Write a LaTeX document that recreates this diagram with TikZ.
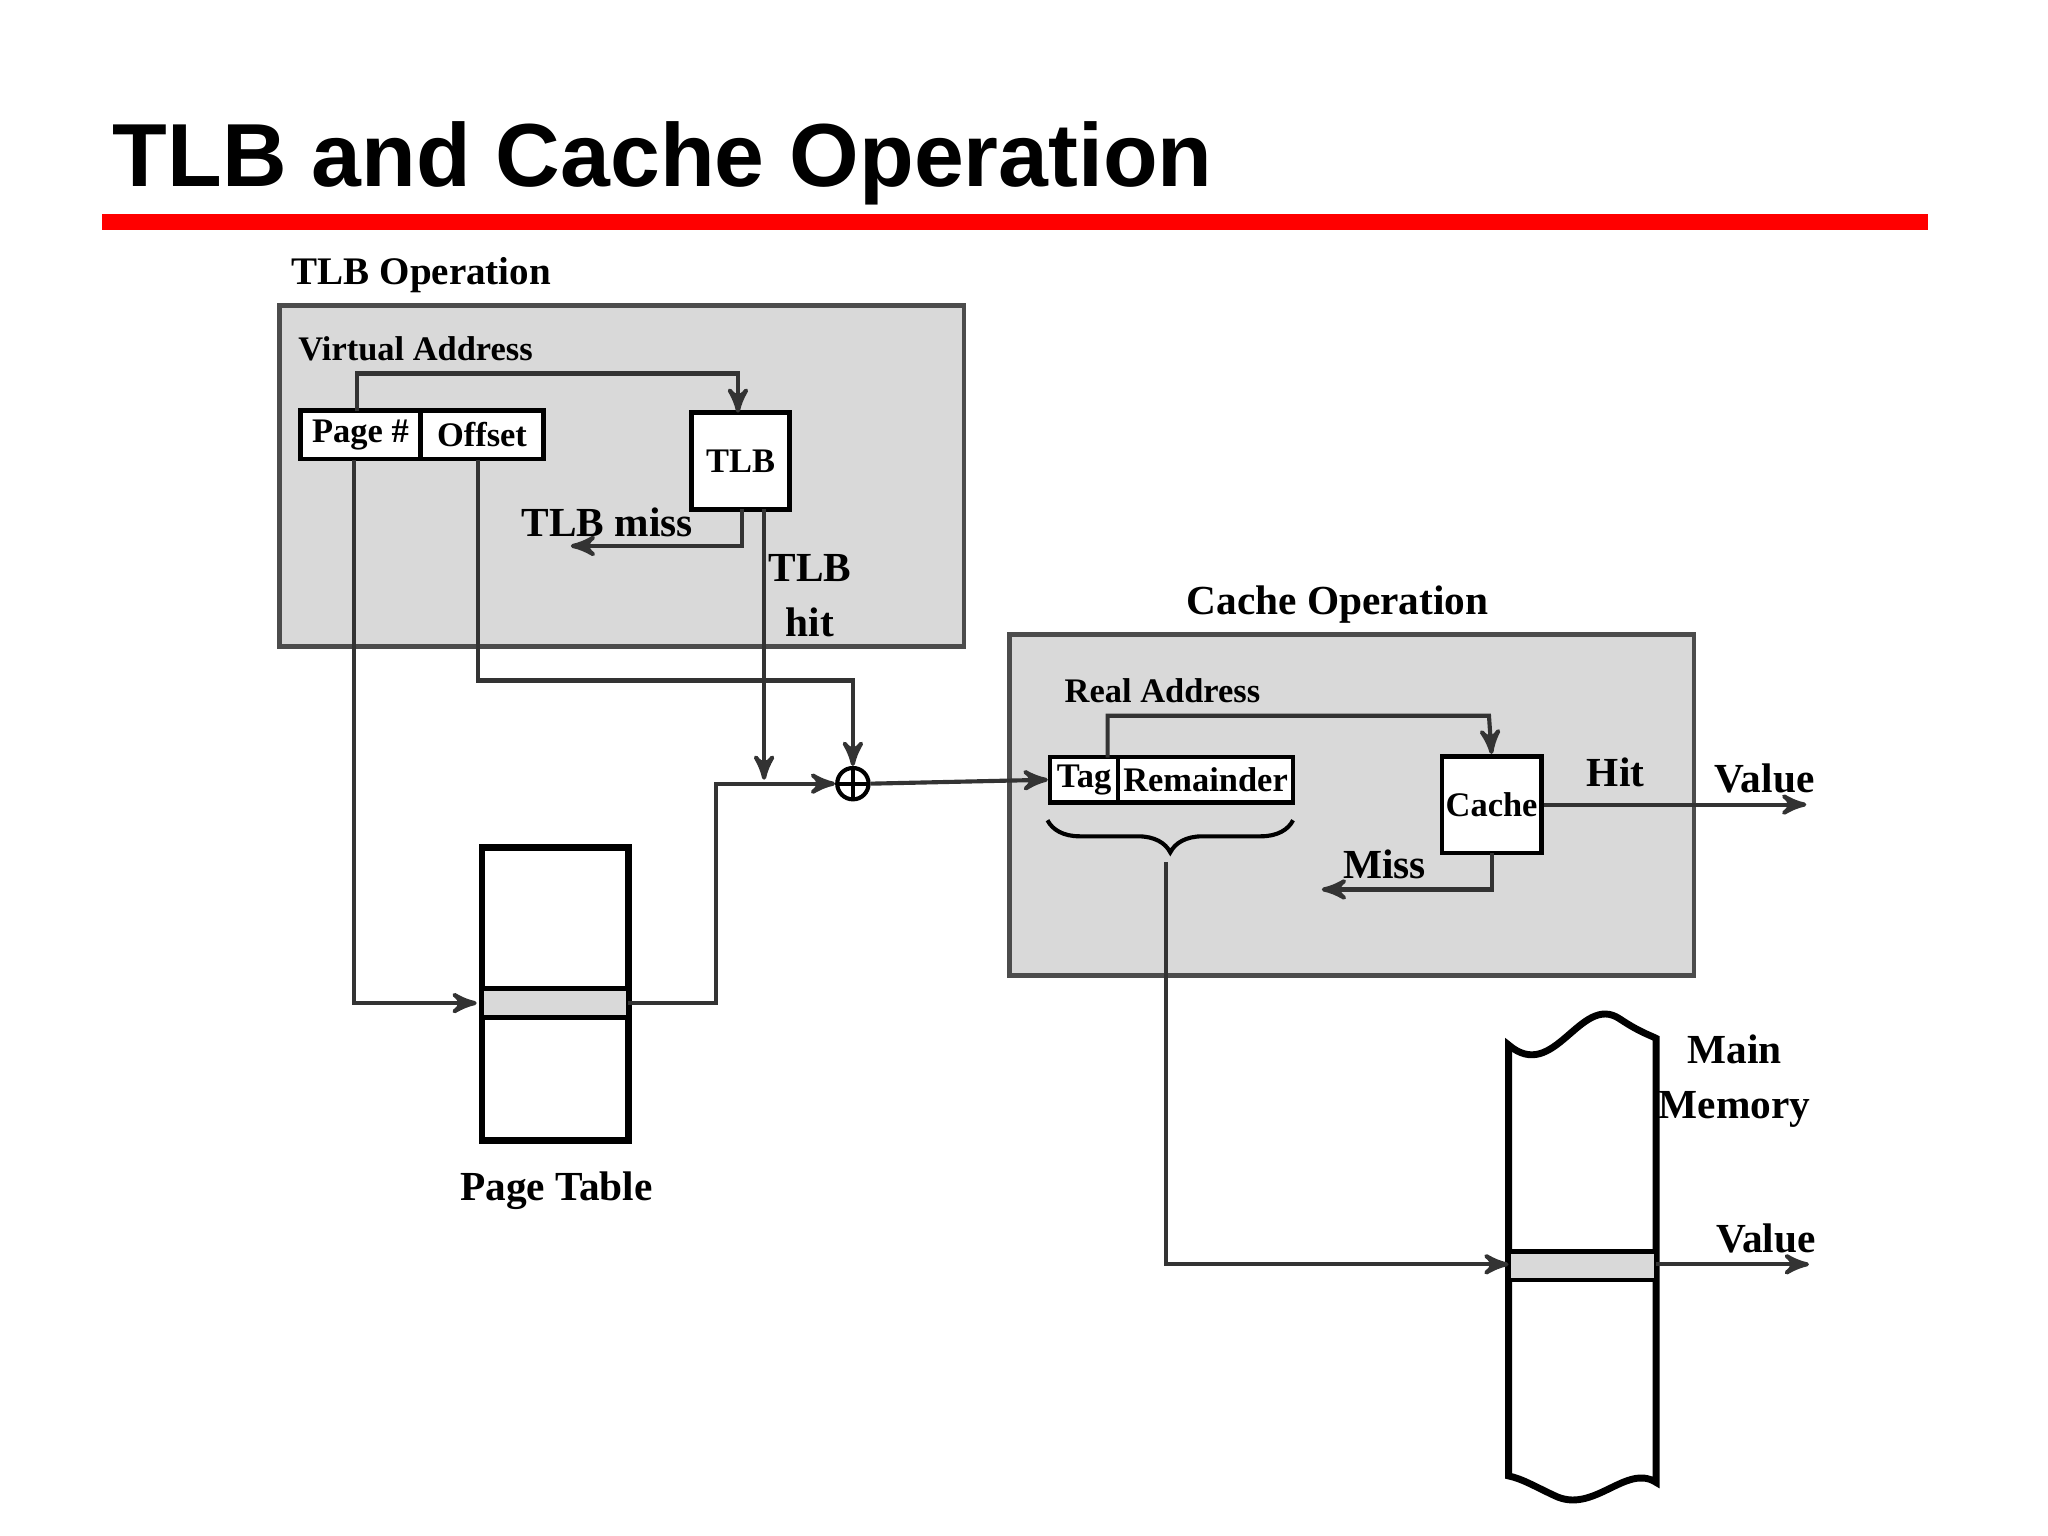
\documentclass[tikz,border=0pt]{standalone}
\usepackage{fontspec}
\setmainfont{Liberation Serif}
\newfontfamily\titlefont{Liberation Sans}
\usetikzlibrary{arrows,decorations.pathreplacing}
\definecolor{boxgray}{gray}{0.85}
\begin{document}
\begin{tikzpicture}[x=0.01cm,y=-0.01cm,>=stealth',thick]
  \tikzstyle{panel}=[draw=black!70,fill=boxgray,line width=1pt]
  \tikzstyle{cell}=[draw,fill=white,line width=1pt,inner sep=0,font=\fontsize{7.5}{9}\selectfont\bfseries]
  \tikzstyle{lbl}=[font=\fontsize{8.5}{10}\selectfont\bfseries]
  \tikzstyle{big}=[font=\fontsize{9}{12}\selectfont\bfseries,align=center]
  \tikzstyle{wire}=[draw=black!80,line width=0.9pt]
  \useasboundingbox (0,0) rectangle (1568,1176);
  % title
  \node[anchor=base west,inner sep=0,font=\titlefont\fontsize{19.5}{24}\selectfont\bfseries] (title) at (85,143) {TLB and Cache Operation};
  \fill[red] (78,164) rectangle (1476,176);
  % TLB operation
  \node[lbl,anchor=west,inner sep=0] (tlbop) at (222,211) {TLB Operation};
  \path[panel] (214,234) rectangle (738,495);
  \node[anchor=west,inner sep=0,font=\fontsize{7.5}{9}\selectfont\bfseries] (va) at (227,267) {Virtual Address};
  \node[cell,minimum width=0.92cm,minimum height=0.37cm] (page) at (276,333) {Page \#};
  \node[cell,minimum width=0.94cm,minimum height=0.37cm] (offset) at (369,333) {Offset};
  \node[cell,minimum width=0.75cm,minimum height=0.74cm] (tlb) at (567,353) {TLB};
  \draw[wire,->] (273,315) |- (565,286) -- (565,316);
  \draw[wire,->] (568,390) |- (437,418);
  \node[big] (miss1) at (465,400) {TLB miss};
  \draw[wire,->] (585,390) -- (585,597);
  \node[big] (hit1) at (620,456) {TLB\\hit};
  % plus
  \node[draw,circle,minimum size=0.24cm,inner sep=0,line width=0.9pt] (plus) at (653,600) {};
  \draw[line width=0.9pt] (641,600) -- (665,600) (653,588) -- (653,612);
  \draw[wire,->] (366,352) |- (653,521) -- (plus.north);
  % page table
  \draw[wire,->] (271,352) |- (365,768);
  \path[draw,fill=white,line width=1.5pt] (369,649) rectangle (481,873);
  \path[draw,fill=boxgray,line width=1pt] (369,757) rectangle (481,779);
  \node[big] (pt) at (426,912) {Page Table};
  \draw[wire,->] (481,768) -| (548,600) -- (plus.west);
  % cache operation
  \node[big] (cacheop) at (1024,463) {Cache Operation};
  \path[panel] (773,486) rectangle (1297,747);
  \node[font=\fontsize{7.5}{9}\selectfont\bfseries] (ra) at (890,529) {Real Address};
  \node[cell,minimum width=0.52cm,minimum height=0.35cm] (tag) at (830,597) {Tag};
  \node[cell,minimum width=1.34cm,minimum height=0.35cm] (rem) at (923,597) {Remainder};
  \node[cell,minimum width=0.76cm,minimum height=0.74cm] (cache) at (1142,616) {Cache};
  \draw[wire,->] (plus.east) -- (tag.west);
  \draw[wire,->] (848,580) |- (1140,548) -- (cache.north);
  \draw[wire,->] (cache.east) -- (1383,616);
  \node[big] (hit2) at (1237,591) {Hit};
  \node[big] (val1) at (1351,596) {Value};
  \draw[wire,->] (1142,653) |- (1012,681);
  \node[big] (miss2) at (1060,662) {Miss};
  \draw[line width=0.9pt,decorate,decoration={brace,mirror,amplitude=7pt}] (802,628) -- (990,628);
  \coordinate (br) at (893,660);
  % main memory
  \path[draw,fill=white,line width=1.5pt] (1155,800) .. controls (1190,830) and (1210,760) .. (1240,780) .. controls (1255,790) and (1262,792) .. (1268,795)
    -- (1268,1135) .. controls (1245,1120) and (1220,1160) .. (1190,1145) .. controls (1175,1138) and (1165,1132) .. (1155,1130) -- cycle;
  \path[draw,fill=boxgray,line width=1pt] (1155,958) rectangle (1268,980);
  \draw[wire,->] (br) |- (1155,968);
  \draw[wire,->] (1268,968) -- (1385,968);
  \node[big] (val2) at (1352,948) {Value};
  \node[big] (mm) at (1328,828) {Main\\Memory};
\end{tikzpicture}
\end{document}
